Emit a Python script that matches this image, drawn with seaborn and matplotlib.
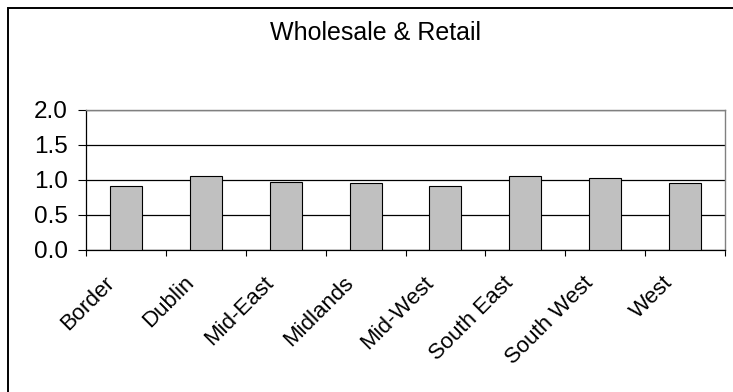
import matplotlib
matplotlib.use("Agg")
import matplotlib.pyplot as plt
from matplotlib.patches import Rectangle
from matplotlib.transforms import ScaledTranslation
from matplotlib.ticker import FixedLocator, FormatStrFormatter
import seaborn as sns
import pandas as pd

# Location quotients by region, Wholesale & Retail sector
regions = ["Border", "Dublin", "Mid-East", "Midlands", "Mid-West",
           "South East", "South West", "West"]
quotients = [0.91, 1.06, 0.97, 0.95, 0.91, 1.06, 1.02, 0.95]
y_ticks = [0.0, 0.5, 1.0, 1.5, 2.0]
title = "Wholesale & Retail"

df = pd.DataFrame({"region": regions, "lq": quotients})

sns.set_style("white")
plt.rcParams["font.family"] = ["Liberation Sans", "DejaVu Sans"]

W, H, DPI = 733, 392, 100
fig = plt.figure(figsize=(W / DPI, H / DPI), dpi=DPI)
fig.patch.set_facecolor("white")

left, right, top, bottom = 86, 725, 109.7, 249.7
ax = fig.add_axes([left / W, 1 - bottom / H, (right - left) / W, (bottom - top) / H])

sns.barplot(data=df, x="region", y="lq", color="#C0C0C0", saturation=1,
            edgecolor="black", linewidth=0.8, width=0.4, ax=ax, zorder=3)

ax.set_ylim(0, 2.0)
ax.set_xlim(-0.5, len(regions) - 0.5)
ax.set_yticks(y_ticks)
ax.yaxis.set_major_formatter(FormatStrFormatter("%.1f"))
ax.set_xlabel("")
ax.set_ylabel("")

# horizontal gridlines
ax.set_axisbelow(True)
ax.yaxis.grid(True, color="black", linewidth=0.9)
ax.xaxis.grid(False)

# spines: black axes, grey plot-area border
for side in ("left", "bottom"):
    ax.spines[side].set_color("black")
    ax.spines[side].set_linewidth(0.9)
for side in ("top", "right"):
    ax.spines[side].set_visible(True)
    ax.spines[side].set_color("#808080")
    ax.spines[side].set_linewidth(1.0)

# y ticks
ax.tick_params(axis="y", which="major", left=True, length=5.8, width=0.8,
               color="black", pad=7.5, labelsize=17.5, labelcolor="black")

# x ticks: marks at category boundaries, labels at centres
ax.xaxis.set_minor_locator(FixedLocator([i - 0.5 for i in range(len(regions) + 1)]))
ax.tick_params(axis="x", which="minor", bottom=True, length=4.5, width=0.8, color="black")
ax.tick_params(axis="x", which="major", bottom=True, length=0, pad=21.5,
               labelsize=16, labelcolor="black")
ax.set_xticks(range(len(regions)))
ax.set_xticklabels(regions, rotation=45, ha="right", va="center",
                   rotation_mode="anchor")
shift = ScaledTranslation(-15 / DPI, 0, fig.dpi_scale_trans)
for lbl in ax.get_xticklabels():
    lbl.set_transform(lbl.get_transform() + shift)

# chart title
fig.text(375 / W, 1 - 40 / H, title, ha="center", va="baseline",
         fontsize=18, color="black")

# chart-area frame
fig.add_artist(Rectangle((8 / W, -0.1), 1.2, 1.1 - 8 / H,
                         transform=fig.transFigure, fill=False,
                         edgecolor="black", linewidth=1.4))

fig.savefig("out.png", dpi=DPI, facecolor="white")
